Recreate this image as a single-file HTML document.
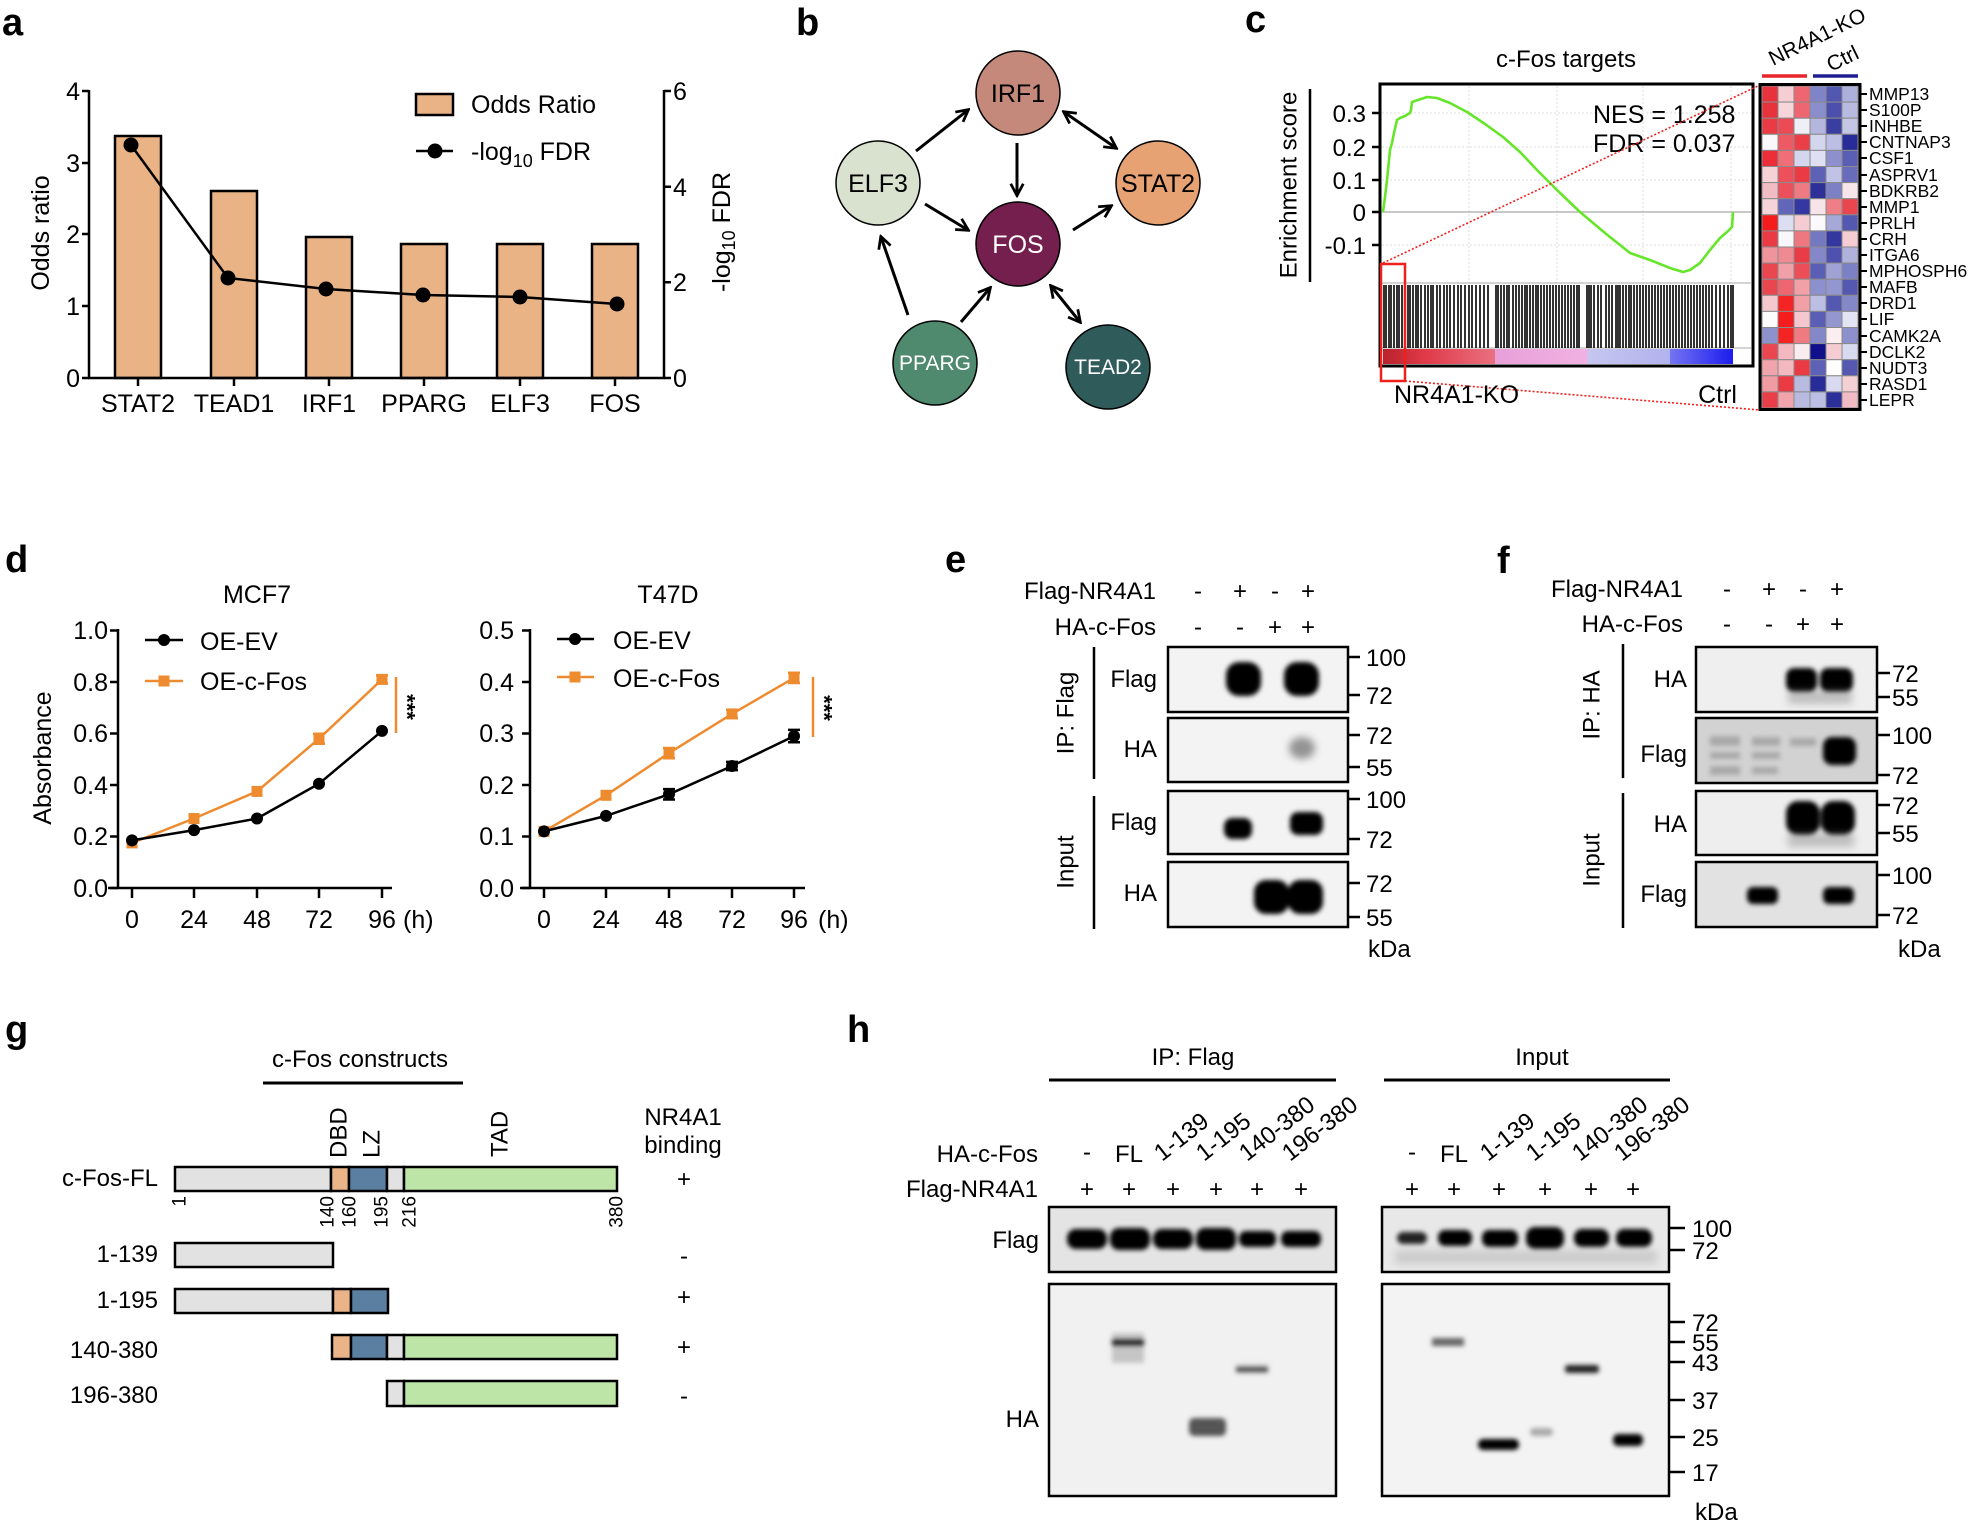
<!DOCTYPE html>
<html><head><meta charset="utf-8"><title>Figure</title>
<style>
html,body{margin:0;padding:0;background:#fff;}
svg{display:block;}
text{font-family:"Liberation Sans",Arial,sans-serif;fill:#000;}
.lbl{font-weight:bold;font-size:38px;}
.t25{font-size:25px;}
.t24{font-size:24px;}
</style></head>
<body>
<svg width="1975" height="1524" viewBox="0 0 1975 1524" xmlns="http://www.w3.org/2000/svg">
<defs>
<marker id="ah" viewBox="0 0 12 12" refX="10" refY="6" markerWidth="15" markerHeight="15" markerUnits="userSpaceOnUse" orient="auto-start-reverse">
<path d="M1,1 L10.5,6 L1,11" fill="none" stroke="#000" stroke-width="2.2"/>
</marker>
<filter id="b1" x="-50%" y="-50%" width="200%" height="200%"><feGaussianBlur stdDeviation="1.5"/></filter>
<filter id="b2" x="-50%" y="-50%" width="200%" height="200%"><feGaussianBlur stdDeviation="2.5"/></filter>
<filter id="b4" x="-50%" y="-50%" width="200%" height="200%"><feGaussianBlur stdDeviation="4"/></filter>
<linearGradient id="cbar" x1="1383" y1="0" x2="1733" y2="0" gradientUnits="userSpaceOnUse">
<stop offset="0" stop-color="#b8222c"/><stop offset="0.12" stop-color="#e03a48"/><stop offset="0.32" stop-color="#ea7080"/>
<stop offset="0.32" stop-color="#e8a0d8"/><stop offset="0.585" stop-color="#f0b2e2"/>
<stop offset="0.585" stop-color="#c6c6f0"/><stop offset="0.82" stop-color="#b2b2ee"/>
<stop offset="0.82" stop-color="#7474f2"/><stop offset="1" stop-color="#1c1cee"/>
</linearGradient>
</defs>

<!-- ================= Panel a ================= -->
<text class="lbl" x="2" y="35">a</text>
<g stroke="#000" stroke-width="2.5" fill="#e9b386">
<rect x="115" y="136" width="46" height="242"/>
<rect x="211" y="191" width="46" height="187"/>
<rect x="306" y="237" width="46" height="141"/>
<rect x="401" y="244" width="46" height="134"/>
<rect x="497" y="244" width="46" height="134"/>
<rect x="592" y="244" width="46" height="134"/>
</g>
<g stroke="#000" stroke-width="2.5" fill="none">
<line x1="89" y1="90" x2="89" y2="379"/>
<line x1="88" y1="378" x2="665" y2="378"/>
<line x1="664" y1="90" x2="664" y2="379"/>
<path d="M82 91H89M82 163H89M82 234H89M82 306H89M82 378H89"/>
<path d="M664 91H671M664 186.7H671M664 282.3H671M664 378H671"/>
<path d="M138 378V386M234 378V386M329 378V386M424 378V386M520 378V386M615 378V386"/>
</g>
<g class="t25" text-anchor="end">
<text x="80" y="100">4</text><text x="80" y="172">3</text><text x="80" y="243">2</text><text x="80" y="315">1</text><text x="80" y="387">0</text>
</g>
<g class="t25">
<text x="673" y="100">6</text><text x="673" y="196">4</text><text x="673" y="291">2</text><text x="673" y="387">0</text>
</g>
<g class="t25" text-anchor="middle">
<text x="138" y="412">STAT2</text><text x="234" y="412">TEAD1</text><text x="329" y="412">IRF1</text>
<text x="424" y="412">PPARG</text><text x="520" y="412">ELF3</text><text x="615" y="412">FOS</text>
</g>
<text class="t25" transform="translate(41,233) rotate(-90)" text-anchor="middle" dominant-baseline="central">Odds ratio</text>
<text class="t25" transform="translate(722,232) rotate(-90)" text-anchor="middle" dominant-baseline="central">-log<tspan font-size="18" dy="7">10</tspan><tspan dy="-7"> FDR</tspan></text>
<polyline points="131,145 228,278 326,289 423,295 520,297 617,304" fill="none" stroke="#000" stroke-width="2.5"/>
<g fill="#000">
<circle cx="131" cy="145" r="7.5"/><circle cx="228" cy="278" r="7.5"/><circle cx="326" cy="289" r="7.5"/>
<circle cx="423" cy="295" r="7.5"/><circle cx="520" cy="297" r="7.5"/><circle cx="617" cy="304" r="7.5"/>
</g>
<rect x="416" y="94" width="37" height="21" fill="#e9b386" stroke="#000" stroke-width="2.5"/>
<text class="t25" x="471" y="113">Odds Ratio</text>
<line x1="416" y1="151" x2="453" y2="151" stroke="#000" stroke-width="2.5"/>
<circle cx="435" cy="151" r="7.5" fill="#000"/>
<text class="t25" x="471" y="160">-log<tspan font-size="18" dy="7">10</tspan><tspan dy="-7"> FDR</tspan></text>

<!-- ================= Panel b ================= -->
<text class="lbl" x="796" y="35">b</text>
<g stroke="#000" stroke-width="3" fill="none">
<line x1="916" y1="151" x2="968" y2="110" marker-end="url(#ah)"/>
<line x1="1017" y1="143" x2="1017" y2="195" marker-end="url(#ah)"/>
<line x1="1064" y1="112" x2="1116" y2="148" marker-start="url(#ah)" marker-end="url(#ah)"/>
<line x1="925" y1="204" x2="968" y2="230" marker-end="url(#ah)"/>
<line x1="1073" y1="230" x2="1111" y2="206" marker-end="url(#ah)"/>
<line x1="908" y1="315" x2="881" y2="237" marker-end="url(#ah)"/>
<line x1="961" y1="322" x2="990" y2="288" marker-end="url(#ah)"/>
<line x1="1051" y1="286" x2="1080" y2="322" marker-start="url(#ah)" marker-end="url(#ah)"/>
</g>
<g stroke="#000" stroke-width="1.5">
<circle cx="1018" cy="93" r="42" fill="#c4897a"/>
<circle cx="878" cy="183" r="42" fill="#d9e1cf"/>
<circle cx="1158" cy="183" r="42" fill="#e6a273"/>
<circle cx="1018" cy="244" r="42" fill="#751f4e"/>
<circle cx="935" cy="363" r="42" fill="#4f8a6f"/>
<circle cx="1108" cy="367" r="42" fill="#2f5b5b"/>
</g>
<g text-anchor="middle" class="t25">
<text x="1018" y="102">IRF1</text>
<text x="878" y="192">ELF3</text>
<text x="1158" y="192">STAT2</text>
<text x="1018" y="253" style="fill:#fff">FOS</text>
<text x="935" y="370" font-size="21" style="fill:#fff">PPARG</text>
<text x="1108" y="374" font-size="21" style="fill:#fff">TEAD2</text>
</g>

<!-- ================= Panel c ================= -->
<text class="lbl" x="1245" y="32">c</text>
<text class="t24" x="1566" y="67" text-anchor="middle">c-Fos targets</text>
<rect x="1380" y="84" width="373" height="282" fill="#fff"/>
<g stroke="#dcdcdc" stroke-width="1" stroke-dasharray="2,2">
<path d="M1469 86V283M1557 86V283M1643 86V283M1731 86V283"/>
<path d="M1382 113H1751M1382 147H1751M1382 180H1751M1382 245H1751"/>
</g>
<line x1="1382" y1="212" x2="1751" y2="212" stroke="#a8a8a8" stroke-width="1.2"/>
<line x1="1382" y1="283" x2="1751" y2="283" stroke="#bbb" stroke-width="1.2"/>
<line x1="1382" y1="348" x2="1751" y2="348" stroke="#bbb" stroke-width="1.2"/>
<path stroke="#000" stroke-width="1.6" d="M1384 285V348M1386 285V348M1389 285V348M1391 285V348M1394 285V348M1397 285V348M1399 285V348M1402 285V348M1405 285V348M1408 285V348M1410 285V348M1413 285V348M1416 285V348M1418 285V348M1421 285V348M1425 285V348M1428 285V348M1431 285V348M1433 285V348M1437 285V348M1440 285V348M1444 285V348M1447 285V348M1450 285V348M1454 285V348M1458 285V348M1461 285V348M1465 285V348M1469 285V348M1472 285V348M1476 285V348M1480 285V348M1484 285V348M1488 285V348M1496 285V348M1498 285V348M1501 285V348M1504 285V348M1507 285V348M1509 285V348M1513 285V348M1516 285V348M1519 285V348M1522 285V348M1525 285V348M1527 285V348M1530 285V348M1533 285V348M1536 285V348M1538 285V348M1541 285V348M1544 285V348M1547 285V348M1550 285V348M1553 285V348M1556 285V348M1559 285V348M1562 285V348M1565 285V348M1568 285V348M1571 285V348M1574 285V348M1577 285V348M1579 285V348M1587 285V348M1589 285V348M1591 285V348M1594 285V348M1598 285V348M1601 285V348M1606 285V348M1609 285V348M1612 285V348M1616 285V348M1618 285V348M1620 285V348M1623 285V348M1626 285V348M1629 285V348M1631 285V348M1634 285V348M1637 285V348M1640 285V348M1643 285V348M1646 285V348M1649 285V348M1652 285V348M1655 285V348M1658 285V348M1661 285V348M1664 285V348M1667 285V348M1670 285V348M1673 285V348M1676 285V348M1679 285V348M1682 285V348M1685 285V348M1688 285V348M1691 285V348M1694 285V348M1697 285V348M1700 285V348M1703 285V348M1706 285V348M1709 285V348M1712 285V348M1716 285V348M1720 285V348M1724 285V348M1728 285V348M1731 285V348M1733 285V348"/>
<rect x="1383" y="349" width="350" height="15" fill="url(#cbar)"/>
<polyline fill="none" stroke="#66e62a" stroke-width="2.6" stroke-linejoin="round" points="1383,212 1385,197 1387,180 1388,170 1390,150 1392,143 1394,133 1397,120 1400,118 1405,116 1410,113 1411,110 1412,102 1418,100 1427,97 1437,98 1450,103 1467,112 1485,124 1503,137 1520,152 1537,170 1558,191 1580,212 1605,233 1630,253 1650,260 1670,268 1683,272 1690,270 1700,263 1710,250 1720,238 1727,232 1732,227 1733,212"/>
<rect x="1380" y="84" width="373" height="282" fill="none" stroke="#000" stroke-width="3"/>
<path d="M1372 113H1380M1372 147H1380M1372 180H1380M1372 212H1380M1372 245H1380" stroke="#000" stroke-width="2.5"/>
<g class="t24" text-anchor="end">
<text x="1366" y="122">0.3</text><text x="1366" y="156">0.2</text><text x="1366" y="189">0.1</text><text x="1366" y="221">0</text><text x="1366" y="254">-0.1</text>
</g>
<text class="t24" transform="translate(1289,185) rotate(-90)" text-anchor="middle" dominant-baseline="central">Enrichment score</text>
<line x1="1310" y1="89" x2="1310" y2="282" stroke="#000" stroke-width="2.5"/>
<text class="t25" x="1593" y="123">NES = 1.258</text>
<text class="t25" x="1593" y="152">FDR = 0.037</text>
<rect x="1381" y="264" width="24" height="117" fill="none" stroke="#f0201c" stroke-width="2.5"/>
<g stroke="#f0201c" stroke-width="1.6" stroke-dasharray="2,2">
<line x1="1383" y1="263" x2="1760" y2="85"/>
<line x1="1405" y1="381" x2="1760" y2="410"/>
</g>
<text class="t25" x="1394" y="403">NR4A1-KO</text>
<text class="t25" x="1737" y="403" text-anchor="end">Ctrl</text>

<!-- heatmap -->
<g stroke="#8a8a8a" stroke-width="1">
<!-- row1 MMP13 -->
<rect x="1762" y="86" width="16" height="16.1" fill="#e8323c"/><rect x="1778" y="86" width="16" height="16.1" fill="#f6cdd2"/><rect x="1794" y="86" width="16" height="16.1" fill="#ee6670"/><rect x="1810" y="86" width="16" height="16.1" fill="#7f84c8"/><rect x="1826" y="86" width="16" height="16.1" fill="#5257b0"/><rect x="1842" y="86" width="16" height="16.1" fill="#aeb0dc"/>
<!-- row2 S100P -->
<rect x="1762" y="102.1" width="16" height="16.1" fill="#e8323c"/><rect x="1778" y="102.1" width="16" height="16.1" fill="#f6d6da"/><rect x="1794" y="102.1" width="16" height="16.1" fill="#ee6670"/><rect x="1810" y="102.1" width="16" height="16.1" fill="#8a8ecc"/><rect x="1826" y="102.1" width="16" height="16.1" fill="#4c50ac"/><rect x="1842" y="102.1" width="16" height="16.1" fill="#b8bae0"/>
<!-- row3 INHBE -->
<rect x="1762" y="118.2" width="16" height="16.1" fill="#ea3a44"/><rect x="1778" y="118.2" width="16" height="16.1" fill="#ec4a54"/><rect x="1794" y="118.2" width="16" height="16.1" fill="#eef0f6"/><rect x="1810" y="118.2" width="16" height="16.1" fill="#b4b6de"/><rect x="1826" y="118.2" width="16" height="16.1" fill="#3a3ea0"/><rect x="1842" y="118.2" width="16" height="16.1" fill="#c4c6e6"/>
<!-- row4 CNTNAP3 -->
<rect x="1762" y="134.3" width="16" height="16.1" fill="#faf8fa"/><rect x="1778" y="134.3" width="16" height="16.1" fill="#ee5a64"/><rect x="1794" y="134.3" width="16" height="16.1" fill="#ea3e48"/><rect x="1810" y="134.3" width="16" height="16.1" fill="#d4d6ee"/><rect x="1826" y="134.3" width="16" height="16.1" fill="#bcbee4"/><rect x="1842" y="134.3" width="16" height="16.1" fill="#282c98"/>
<!-- row5 CSF1 -->
<rect x="1762" y="150.4" width="16" height="16.1" fill="#ec2e38"/><rect x="1778" y="150.4" width="16" height="16.1" fill="#ef6e78"/><rect x="1794" y="150.4" width="16" height="16.1" fill="#d4d6ee"/><rect x="1810" y="150.4" width="16" height="16.1" fill="#dedff2"/><rect x="1826" y="150.4" width="16" height="16.1" fill="#8d90cc"/><rect x="1842" y="150.4" width="16" height="16.1" fill="#5a5eb4"/>
<!-- row6 ASPRV1 -->
<rect x="1762" y="166.5" width="16" height="16.1" fill="#f4d2d6"/><rect x="1778" y="166.5" width="16" height="16.1" fill="#ec505a"/><rect x="1794" y="166.5" width="16" height="16.1" fill="#ea3a44"/><rect x="1810" y="166.5" width="16" height="16.1" fill="#5e62b6"/><rect x="1826" y="166.5" width="16" height="16.1" fill="#c0c2e6"/><rect x="1842" y="166.5" width="16" height="16.1" fill="#686cba"/>
<!-- row7 BDKRB2 -->
<rect x="1762" y="182.6" width="16" height="16.1" fill="#f2bcc4"/><rect x="1778" y="182.6" width="16" height="16.1" fill="#ec505a"/><rect x="1794" y="182.6" width="16" height="16.1" fill="#ee7a84"/><rect x="1810" y="182.6" width="16" height="16.1" fill="#2c3098"/><rect x="1826" y="182.6" width="16" height="16.1" fill="#7c80c4"/><rect x="1842" y="182.6" width="16" height="16.1" fill="#f6e6ea"/>
<!-- row8 MMP1 -->
<rect x="1762" y="198.7" width="16" height="16.1" fill="#f4d4d8"/><rect x="1778" y="198.7" width="16" height="16.1" fill="#6266b8"/><rect x="1794" y="198.7" width="16" height="16.1" fill="#3438a0"/><rect x="1810" y="198.7" width="16" height="16.1" fill="#f6e4e8"/><rect x="1826" y="198.7" width="16" height="16.1" fill="#ef7e86"/><rect x="1842" y="198.7" width="16" height="16.1" fill="#ea4650"/>
<!-- row9 PRLH -->
<rect x="1762" y="214.8" width="16" height="16.1" fill="#f41c1c"/><rect x="1778" y="214.8" width="16" height="16.1" fill="#dcdef2"/><rect x="1794" y="214.8" width="16" height="16.1" fill="#f4ccd2"/><rect x="1810" y="214.8" width="16" height="16.1" fill="#fafafc"/><rect x="1826" y="214.8" width="16" height="16.1" fill="#a6a8d8"/><rect x="1842" y="214.8" width="16" height="16.1" fill="#5458b0"/>
<!-- row10 CRH -->
<rect x="1762" y="230.9" width="16" height="16.1" fill="#ea3a44"/><rect x="1778" y="230.9" width="16" height="16.1" fill="#f8f8fc"/><rect x="1794" y="230.9" width="16" height="16.1" fill="#ef7880"/><rect x="1810" y="230.9" width="16" height="16.1" fill="#7478c0"/><rect x="1826" y="230.9" width="16" height="16.1" fill="#34389e"/><rect x="1842" y="230.9" width="16" height="16.1" fill="#f4ccd2"/>
<!-- row11 ITGA6 -->
<rect x="1762" y="247" width="16" height="16.1" fill="#f0949c"/><rect x="1778" y="247" width="16" height="16.1" fill="#f08a92"/><rect x="1794" y="247" width="16" height="16.1" fill="#ea3c46"/><rect x="1810" y="247" width="16" height="16.1" fill="#8488c8"/><rect x="1826" y="247" width="16" height="16.1" fill="#4e52ae"/><rect x="1842" y="247" width="16" height="16.1" fill="#b0b2dc"/>
<!-- row12 MPHOSPH6 -->
<rect x="1762" y="263.1" width="16" height="16.1" fill="#ea4650"/><rect x="1778" y="263.1" width="16" height="16.1" fill="#f2a0a8"/><rect x="1794" y="263.1" width="16" height="16.1" fill="#ec4e58"/><rect x="1810" y="263.1" width="16" height="16.1" fill="#5a5eb4"/><rect x="1826" y="263.1" width="16" height="16.1" fill="#a0a2d6"/><rect x="1842" y="263.1" width="16" height="16.1" fill="#7c80c4"/>
<!-- row13 MAFB -->
<rect x="1762" y="279.2" width="16" height="16.1" fill="#ea4650"/><rect x="1778" y="279.2" width="16" height="16.1" fill="#ee6670"/><rect x="1794" y="279.2" width="16" height="16.1" fill="#f2a0a8"/><rect x="1810" y="279.2" width="16" height="16.1" fill="#8c90cc"/><rect x="1826" y="279.2" width="16" height="16.1" fill="#9496d0"/><rect x="1842" y="279.2" width="16" height="16.1" fill="#5458b0"/>
<!-- row14 DRD1 -->
<rect x="1762" y="295.3" width="16" height="16.1" fill="#f4c8ce"/><rect x="1778" y="295.3" width="16" height="16.1" fill="#f42424"/><rect x="1794" y="295.3" width="16" height="16.1" fill="#f2a0a8"/><rect x="1810" y="295.3" width="16" height="16.1" fill="#bcbee4"/><rect x="1826" y="295.3" width="16" height="16.1" fill="#5458b0"/><rect x="1842" y="295.3" width="16" height="16.1" fill="#8488c8"/>
<!-- row15 LIF -->
<rect x="1762" y="311.4" width="16" height="16.1" fill="#fcfcfc"/><rect x="1778" y="311.4" width="16" height="16.1" fill="#f41c1c"/><rect x="1794" y="311.4" width="16" height="16.1" fill="#f4c8ce"/><rect x="1810" y="311.4" width="16" height="16.1" fill="#5a5eb4"/><rect x="1826" y="311.4" width="16" height="16.1" fill="#9496d0"/><rect x="1842" y="311.4" width="16" height="16.1" fill="#e2e4f4"/>
<!-- row16 CAMK2A -->
<rect x="1762" y="327.5" width="16" height="16.1" fill="#8e92cc"/><rect x="1778" y="327.5" width="16" height="16.1" fill="#f42424"/><rect x="1794" y="327.5" width="16" height="16.1" fill="#ef7a82"/><rect x="1810" y="327.5" width="16" height="16.1" fill="#8488c8"/><rect x="1826" y="327.5" width="16" height="16.1" fill="#faeef0"/><rect x="1842" y="327.5" width="16" height="16.1" fill="#8c90cc"/>
<!-- row17 DCLK2 -->
<rect x="1762" y="343.6" width="16" height="16.1" fill="#ea4650"/><rect x="1778" y="343.6" width="16" height="16.1" fill="#f4b8c0"/><rect x="1794" y="343.6" width="16" height="16.1" fill="#f8ecee"/><rect x="1810" y="343.6" width="16" height="16.1" fill="#10108a"/><rect x="1826" y="343.6" width="16" height="16.1" fill="#f4ccd2"/><rect x="1842" y="343.6" width="16" height="16.1" fill="#d8daf0"/>
<!-- row18 NUDT3 -->
<rect x="1762" y="359.7" width="16" height="16.1" fill="#f2a4ac"/><rect x="1778" y="359.7" width="16" height="16.1" fill="#f4b8c0"/><rect x="1794" y="359.7" width="16" height="16.1" fill="#ea3a44"/><rect x="1810" y="359.7" width="16" height="16.1" fill="#5e62b6"/><rect x="1826" y="359.7" width="16" height="16.1" fill="#fefefe"/><rect x="1842" y="359.7" width="16" height="16.1" fill="#5458b0"/>
<!-- row19 RASD1 -->
<rect x="1762" y="375.8" width="16" height="16.1" fill="#f09aa2"/><rect x="1778" y="375.8" width="16" height="16.1" fill="#ea3a44"/><rect x="1794" y="375.8" width="16" height="16.1" fill="#b8bae0"/><rect x="1810" y="375.8" width="16" height="16.1" fill="#282c98"/><rect x="1826" y="375.8" width="16" height="16.1" fill="#d8daf0"/><rect x="1842" y="375.8" width="16" height="16.1" fill="#f4d0d4"/>
<!-- row20 LEPR -->
<rect x="1762" y="391.9" width="16" height="16.1" fill="#ea3e48"/><rect x="1778" y="391.9" width="16" height="16.1" fill="#f2a4ac"/><rect x="1794" y="391.9" width="16" height="16.1" fill="#b8bae0"/><rect x="1810" y="391.9" width="16" height="16.1" fill="#bcbee4"/><rect x="1826" y="391.9" width="16" height="16.1" fill="#2c3098"/><rect x="1842" y="391.9" width="16" height="16.1" fill="#f2bcc4"/>
</g>
<rect x="1760" y="84.5" width="100" height="325" fill="none" stroke="#000" stroke-width="3"/>
<path stroke="#000" stroke-width="2" d="M1860 94H1867M1860 110H1867M1860 126H1867M1860 142H1867M1860 158H1867M1860 175H1867M1860 191H1867M1860 207H1867M1860 223H1867M1860 239H1867M1860 255H1867M1860 271H1867M1860 287H1867M1860 303H1867M1860 319H1867M1860 336H1867M1860 352H1867M1860 368H1867M1860 384H1867M1860 400H1867"/>
<g font-size="17.5">
<text x="1869" y="100">MMP13</text><text x="1869" y="116">S100P</text><text x="1869" y="132">INHBE</text><text x="1869" y="148">CNTNAP3</text><text x="1869" y="164">CSF1</text>
<text x="1869" y="181">ASPRV1</text><text x="1869" y="197">BDKRB2</text><text x="1869" y="213">MMP1</text><text x="1869" y="229">PRLH</text><text x="1869" y="245">CRH</text>
<text x="1869" y="261">ITGA6</text><text x="1869" y="277">MPHOSPH6</text><text x="1869" y="293">MAFB</text><text x="1869" y="309">DRD1</text><text x="1869" y="325">LIF</text>
<text x="1869" y="342">CAMK2A</text><text x="1869" y="358">DCLK2</text><text x="1869" y="374">NUDT3</text><text x="1869" y="390">RASD1</text><text x="1869" y="406">LEPR</text>
</g>
<line x1="1762" y1="76" x2="1807" y2="76" stroke="#e8262a" stroke-width="3.5"/>
<line x1="1813" y1="76" x2="1858" y2="76" stroke="#1e1e90" stroke-width="3.5"/>
<text font-size="21" transform="translate(1773,66) rotate(-26)">NR4A1-KO</text>
<text font-size="21" transform="translate(1831,72) rotate(-26)">Ctrl</text>

<!-- ================= Panel d ================= -->
<text class="lbl" x="5" y="572">d</text>
<!-- MCF7 -->
<text class="t25" x="257" y="603" text-anchor="middle">MCF7</text>
<g stroke="#000" stroke-width="2.5" fill="none">
<line x1="118" y1="629" x2="118" y2="889"/>
<line x1="108" y1="888" x2="392" y2="888"/>
<path d="M110 888H118M110 836.5H118M110 785H118M110 733.5H118M110 682H118M110 630.5H118"/>
<path d="M132 888V898M194 888V898M257 888V898M319 888V898M382 888V898"/>
</g>
<g class="t25" text-anchor="end">
<text x="108" y="897">0.0</text><text x="108" y="845">0.2</text><text x="108" y="794">0.4</text><text x="108" y="742">0.6</text><text x="108" y="691">0.8</text><text x="108" y="639">1.0</text>
</g>
<g class="t25" text-anchor="middle">
<text x="132" y="928">0</text><text x="194" y="928">24</text><text x="257" y="928">48</text><text x="319" y="928">72</text><text x="382" y="928">96</text>
</g>
<text class="t25" x="403" y="928">(h)</text>
<text class="t25" transform="translate(43,758) rotate(-90)" text-anchor="middle" dominant-baseline="central">Absorbance</text>
<g stroke="#ef8b2f" stroke-width="2.5" fill="#ef8b2f">
<polyline fill="none" points="132,842.9 194,818.5 257,791.4 319,738.7 382,679.4"/>
<path d="M319 733.7V743.7M313 733.7H325M313 743.7H325M382 675.4V683.4M376 675.4H388M376 683.4H388"/>
<rect x="126.5" y="837.4" width="11" height="11" stroke="none"/>
<rect x="188.5" y="813" width="11" height="11" stroke="none"/>
<rect x="251.5" y="785.9" width="11" height="11" stroke="none"/>
<rect x="313.5" y="733.2" width="11" height="11" stroke="none"/>
<rect x="376.5" y="673.9" width="11" height="11" stroke="none"/>
</g>
<g stroke="#000" stroke-width="2.5" fill="#000">
<polyline fill="none" points="132,840.4 194,830.1 257,818.5 319,783.7 382,730.9"/>
<circle cx="132" cy="840.4" r="6" stroke="none"/><circle cx="194" cy="830.1" r="6" stroke="none"/><circle cx="257" cy="818.5" r="6" stroke="none"/><circle cx="319" cy="783.7" r="6" stroke="none"/><circle cx="382" cy="730.9" r="6" stroke="none"/>
</g>
<line x1="145" y1="640" x2="183" y2="640" stroke="#000" stroke-width="2.5"/><circle cx="164" cy="640" r="6"/>
<text class="t25" x="200" y="650">OE-EV</text>
<line x1="145" y1="681" x2="183" y2="681" stroke="#ef8b2f" stroke-width="2.5"/><rect x="158.5" y="675.5" width="11" height="11" fill="#ef8b2f"/>
<text class="t25" x="200" y="690">OE-c-Fos</text>
<line x1="396" y1="677" x2="396" y2="733" stroke="#ef8b2f" stroke-width="2.5"/>
<text font-size="22" font-weight="bold" transform="translate(407,707) rotate(90)" text-anchor="middle" dominant-baseline="central">***</text>

<!-- T47D -->
<text class="t25" x="668" y="603" text-anchor="middle">T47D</text>
<g stroke="#000" stroke-width="2.5" fill="none">
<line x1="530" y1="629" x2="530" y2="889"/>
<line x1="520" y1="888" x2="805" y2="888"/>
<path d="M522 888H530M522 836.5H530M522 785H530M522 733.5H530M522 682H530M522 630.5H530"/>
<path d="M544 888V898M606 888V898M669 888V898M732 888V898M794 888V898"/>
</g>
<g class="t25" text-anchor="end">
<text x="514" y="897">0.0</text><text x="514" y="845">0.1</text><text x="514" y="794">0.2</text><text x="514" y="742">0.3</text><text x="514" y="691">0.4</text><text x="514" y="639">0.5</text>
</g>
<g class="t25" text-anchor="middle">
<text x="544" y="928">0</text><text x="606" y="928">24</text><text x="669" y="928">48</text><text x="732" y="928">72</text><text x="794" y="928">96</text>
</g>
<text class="t25" x="818" y="928">(h)</text>
<g stroke="#ef8b2f" stroke-width="2.5" fill="#ef8b2f">
<polyline fill="none" points="544,831.4 606,795.3 669,753.1 732,713.9 794,677.9"/>
<path d="M669 748V758.2M663 748H675M663 758.2H675M732 709.8V718M726 709.8H738M726 718H738M794 672.8V683M788 672.8H800M788 683H800"/>
<rect x="538.5" y="825.9" width="11" height="11" stroke="none"/>
<rect x="600.5" y="789.8" width="11" height="11" stroke="none"/>
<rect x="663.5" y="747.6" width="11" height="11" stroke="none"/>
<rect x="726.5" y="708.4" width="11" height="11" stroke="none"/>
<rect x="788.5" y="672.4" width="11" height="11" stroke="none"/>
</g>
<g stroke="#000" stroke-width="2.5" fill="#000">
<polyline fill="none" points="544,831.4 606,815.9 669,794.3 732,766 794,736.1"/>
<path d="M669 789.1V799.5M663 789.1H675M663 799.5H675M732 761.9V770.1M726 761.9H738M726 770.1H738M794 729.9V742.3M788 729.9H800M788 742.3H800"/>
<circle cx="544" cy="831.4" r="6" stroke="none"/><circle cx="606" cy="815.9" r="6" stroke="none"/><circle cx="669" cy="794.3" r="6" stroke="none"/><circle cx="732" cy="766" r="6" stroke="none"/><circle cx="794" cy="736.1" r="6" stroke="none"/>
</g>
<line x1="557" y1="639" x2="594" y2="639" stroke="#000" stroke-width="2.5"/><circle cx="575" cy="639" r="6"/>
<text class="t25" x="613" y="649">OE-EV</text>
<line x1="557" y1="677" x2="594" y2="677" stroke="#ef8b2f" stroke-width="2.5"/><rect x="569.5" y="671.5" width="11" height="11" fill="#ef8b2f"/>
<text class="t25" x="613" y="687">OE-c-Fos</text>
<line x1="813" y1="677" x2="813" y2="737" stroke="#ef8b2f" stroke-width="2.5"/>
<text font-size="22" font-weight="bold" transform="translate(824,708) rotate(90)" text-anchor="middle" dominant-baseline="central">***</text>

<!-- ================= Panel e ================= -->
<text class="lbl" x="945" y="572">e</text>
<text class="t24" x="1156" y="599" text-anchor="end">Flag-NR4A1</text>
<text class="t24" x="1156" y="635" text-anchor="end">HA-c-Fos</text>
<g class="t24" text-anchor="middle">
<text x="1198" y="599">-</text><text x="1240" y="599">+</text><text x="1275" y="599">-</text><text x="1308" y="599">+</text>
<text x="1198" y="635">-</text><text x="1240" y="635">-</text><text x="1275" y="635">+</text><text x="1308" y="635">+</text>
</g>
<g fill="#f3f3f3">
<rect x="1168" y="647" width="180" height="65"/><rect x="1168" y="718" width="180" height="64"/>
<rect x="1168" y="791" width="180" height="63"/><rect x="1168" y="862" width="180" height="65"/>
</g>
<g fill="#000" filter="url(#b2)">
<rect x="1226" y="662" width="35" height="34" rx="13"/><rect x="1284" y="662" width="35" height="34" rx="13"/>
<rect x="1224" y="818" width="28" height="21" rx="8"/><rect x="1290" y="812" width="33" height="23" rx="8"/>
<rect x="1254" y="880" width="35" height="34" rx="12"/><rect x="1288" y="880" width="35" height="34" rx="12"/>
</g>
<ellipse cx="1302" cy="748" rx="13" ry="11" fill="#555" opacity="0.6" filter="url(#b4)"/>
<g fill="none" stroke="#000" stroke-width="2.5">
<rect x="1168" y="647" width="180" height="65"/><rect x="1168" y="718" width="180" height="64"/>
<rect x="1168" y="791" width="180" height="63"/><rect x="1168" y="862" width="180" height="65"/>
<path d="M1349 657H1360M1349 695H1360M1349 735H1360M1349 767H1360M1349 799H1360M1349 839H1360M1349 883H1360M1349 917H1360"/>
<line x1="1094" y1="647" x2="1094" y2="779"/><line x1="1094" y1="796" x2="1094" y2="929"/>
</g>
<g class="t24">
<text x="1366" y="666">100</text><text x="1366" y="704">72</text><text x="1366" y="744">72</text><text x="1366" y="776">55</text>
<text x="1366" y="808">100</text><text x="1366" y="848">72</text><text x="1366" y="892">72</text><text x="1366" y="926">55</text>
<text x="1368" y="957">kDa</text>
</g>
<g class="t24" text-anchor="end">
<text x="1157" y="687">Flag</text><text x="1157" y="757">HA</text><text x="1157" y="830">Flag</text><text x="1157" y="901">HA</text>
</g>
<text class="t24" transform="translate(1066,713) rotate(-90)" text-anchor="middle" dominant-baseline="central">IP: Flag</text>
<text class="t24" transform="translate(1066,862) rotate(-90)" text-anchor="middle" dominant-baseline="central">Input</text>

<!-- ================= Panel f ================= -->
<text class="lbl" x="1497" y="573">f</text>
<text class="t24" x="1683" y="597" text-anchor="end">Flag-NR4A1</text>
<text class="t24" x="1683" y="632" text-anchor="end">HA-c-Fos</text>
<g class="t24" text-anchor="middle">
<text x="1727" y="597">-</text><text x="1769" y="597">+</text><text x="1803" y="597">-</text><text x="1837" y="597">+</text>
<text x="1727" y="632">-</text><text x="1769" y="632">-</text><text x="1803" y="632">+</text><text x="1837" y="632">+</text>
</g>
<rect x="1696" y="647" width="181" height="65" fill="#efefef"/>
<rect x="1696" y="718" width="181" height="65" fill="#d2d2d2"/>
<rect x="1696" y="791" width="181" height="64" fill="#eeeeee"/>
<rect x="1696" y="862" width="181" height="65" fill="#e2e2e2"/>
<g fill="#888" opacity="0.55" filter="url(#b2)">
<rect x="1710" y="736" width="30" height="10"/><rect x="1752" y="737" width="28" height="9"/><rect x="1790" y="738" width="26" height="8"/>
<rect x="1710" y="752" width="30" height="7"/><rect x="1752" y="752" width="28" height="7"/>
<rect x="1710" y="766" width="30" height="9"/><rect x="1752" y="767" width="26" height="7"/>
</g>
<g fill="#000" filter="url(#b2)">
<rect x="1786" y="668" width="31" height="24" rx="8"/><rect x="1820" y="668" width="33" height="24" rx="8"/>
<rect x="1823" y="737" width="33" height="28" rx="9"/>
<rect x="1786" y="801" width="34" height="34" rx="12"/><rect x="1821" y="801" width="34" height="34" rx="12"/>
<rect x="1747" y="887" width="31" height="17" rx="6"/><rect x="1823" y="887" width="31" height="17" rx="6"/>
</g>
<g fill="#777" opacity="0.4" filter="url(#b4)">
<rect x="1788" y="690" width="64" height="14"/><rect x="1788" y="833" width="66" height="14"/>
</g>
<g fill="none" stroke="#000" stroke-width="2.5">
<rect x="1696" y="647" width="181" height="65"/><rect x="1696" y="718" width="181" height="65"/>
<rect x="1696" y="791" width="181" height="64"/><rect x="1696" y="862" width="181" height="65"/>
<path d="M1878 673H1890M1878 697H1890M1878 735H1890M1878 775H1890M1878 805H1890M1878 833H1890M1878 875H1890M1878 915H1890"/>
<line x1="1623" y1="644" x2="1623" y2="778"/><line x1="1623" y1="793" x2="1623" y2="928"/>
</g>
<g class="t24">
<text x="1892" y="682">72</text><text x="1892" y="706">55</text><text x="1892" y="744">100</text><text x="1892" y="784">72</text>
<text x="1892" y="814">72</text><text x="1892" y="842">55</text><text x="1892" y="884">100</text><text x="1892" y="924">72</text>
<text x="1898" y="957">kDa</text>
</g>
<g class="t24" text-anchor="end">
<text x="1687" y="687">HA</text><text x="1687" y="762">Flag</text><text x="1687" y="832">HA</text><text x="1687" y="902">Flag</text>
</g>
<text class="t24" transform="translate(1592,705) rotate(-90)" text-anchor="middle" dominant-baseline="central">IP: HA</text>
<text class="t24" transform="translate(1592,860) rotate(-90)" text-anchor="middle" dominant-baseline="central">Input</text>

<!-- ================= Panel g ================= -->
<text class="lbl" x="5" y="1042">g</text>
<text class="t24" x="272" y="1067">c-Fos constructs</text>
<line x1="263" y1="1083" x2="463" y2="1083" stroke="#000" stroke-width="3"/>
<text class="t24" transform="translate(339,1158) rotate(-90)" dominant-baseline="central">DBD</text>
<text class="t24" transform="translate(372,1158) rotate(-90)" dominant-baseline="central">LZ</text>
<text class="t24" transform="translate(500,1157) rotate(-90)" dominant-baseline="central">TAD</text>
<g font-size="19" text-anchor="end" dominant-baseline="central">
<text transform="translate(180,1196) rotate(-90)">1</text>
<text transform="translate(328,1196) rotate(-90)">140</text>
<text transform="translate(350,1196) rotate(-90)">160</text>
<text transform="translate(382,1196) rotate(-90)">195</text>
<text transform="translate(410,1196) rotate(-90)">216</text>
<text transform="translate(617,1196) rotate(-90)">380</text>
</g>
<g stroke="#000" stroke-width="2.5">
<!-- FL -->
<rect x="175" y="1167" width="156" height="24" fill="#e2e2e2"/>
<rect x="331" y="1167" width="18" height="24" fill="#eab488"/>
<rect x="349" y="1167" width="38" height="24" fill="#5b7fa0"/>
<rect x="387" y="1167" width="17" height="24" fill="#e2e2e2"/>
<rect x="404" y="1167" width="213" height="24" fill="#bde5a8"/>
<!-- 1-139 -->
<rect x="175" y="1243" width="158" height="24" fill="#e2e2e2"/>
<!-- 1-195 -->
<rect x="175" y="1289" width="158" height="24" fill="#e2e2e2"/>
<rect x="333" y="1289" width="18" height="24" fill="#eab488"/>
<rect x="351" y="1289" width="37" height="24" fill="#5b7fa0"/>
<!-- 140-380 -->
<rect x="332" y="1335" width="19" height="24" fill="#eab488"/>
<rect x="351" y="1335" width="36" height="24" fill="#5b7fa0"/>
<rect x="387" y="1335" width="17" height="24" fill="#e2e2e2"/>
<rect x="404" y="1335" width="213" height="24" fill="#bde5a8"/>
<!-- 196-380 -->
<rect x="387" y="1381" width="17" height="25" fill="#e2e2e2"/>
<rect x="404" y="1381" width="213" height="25" fill="#bde5a8"/>
</g>
<g class="t24" text-anchor="end">
<text x="158" y="1186">c-Fos-FL</text><text x="158" y="1262">1-139</text><text x="158" y="1308">1-195</text>
<text x="158" y="1358">140-380</text><text x="158" y="1403">196-380</text>
</g>
<text class="t24" x="683" y="1125" text-anchor="middle">NR4A1</text>
<text class="t24" x="683" y="1153" text-anchor="middle">binding</text>
<g class="t24" text-anchor="middle">
<text x="684" y="1187">+</text><text x="684" y="1264">-</text><text x="684" y="1305">+</text><text x="684" y="1355">+</text><text x="684" y="1404">-</text>
</g>

<!-- ================= Panel h ================= -->
<text class="lbl" x="847" y="1042">h</text>
<text class="t24" x="1193" y="1065" text-anchor="middle">IP: Flag</text>
<line x1="1049" y1="1080" x2="1336" y2="1080" stroke="#000" stroke-width="3"/>
<text class="t24" x="1542" y="1065" text-anchor="middle">Input</text>
<line x1="1384" y1="1080" x2="1670" y2="1080" stroke="#000" stroke-width="3"/>
<text class="t24" x="1038" y="1162" text-anchor="end">HA-c-Fos</text>
<text class="t24" x="1038" y="1197" text-anchor="end">Flag-NR4A1</text>
<g class="t24">
<text x="1087" y="1160" text-anchor="middle">-</text><text x="1129" y="1162" text-anchor="middle">FL</text>
<text transform="translate(1162,1162) rotate(-38)">1-139</text>
<text transform="translate(1204,1162) rotate(-38)">1-195</text>
<text transform="translate(1247,1162) rotate(-38)">140-380</text>
<text transform="translate(1290,1162) rotate(-38)">196-380</text>
<text x="1412" y="1160" text-anchor="middle">-</text><text x="1454" y="1162" text-anchor="middle">FL</text>
<text transform="translate(1488,1162) rotate(-38)">1-139</text>
<text transform="translate(1534,1162) rotate(-38)">1-195</text>
<text transform="translate(1580,1162) rotate(-38)">140-380</text>
<text transform="translate(1622,1162) rotate(-38)">196-380</text>
</g>
<g class="t24" text-anchor="middle">
<text x="1087" y="1197">+</text><text x="1129" y="1197">+</text><text x="1173" y="1197">+</text><text x="1216" y="1197">+</text><text x="1257" y="1197">+</text><text x="1301" y="1197">+</text>
<text x="1412" y="1197">+</text><text x="1454" y="1197">+</text><text x="1499" y="1197">+</text><text x="1545" y="1197">+</text><text x="1591" y="1197">+</text><text x="1633" y="1197">+</text>
</g>
<!-- Flag blots -->
<rect x="1049" y="1207" width="287" height="65" fill="#e4e4e4"/>
<rect x="1382" y="1207" width="287" height="65" fill="#e8e8e8"/>
<g fill="#000" filter="url(#b2)">
<rect x="1067" y="1229" width="40" height="20" rx="9"/><rect x="1110" y="1228" width="40" height="22" rx="9"/>
<rect x="1153" y="1229" width="40" height="20" rx="9"/><rect x="1196" y="1228" width="40" height="22" rx="9"/>
<rect x="1239" y="1231" width="37" height="16" rx="7"/><rect x="1281" y="1231" width="40" height="16" rx="7"/>
<rect x="1397" y="1232" width="30" height="12" rx="6" opacity="0.85"/><rect x="1438" y="1230" width="34" height="16" rx="7"/>
<rect x="1482" y="1230" width="36" height="17" rx="7"/><rect x="1526" y="1227" width="38" height="22" rx="9"/>
<rect x="1574" y="1229" width="35" height="18" rx="8"/><rect x="1616" y="1229" width="36" height="18" rx="8"/>
</g>
<rect x="1395" y="1250" width="262" height="14" fill="#999" opacity="0.35" filter="url(#b4)"/>
<!-- HA blots -->
<rect x="1049" y="1284" width="287" height="212" fill="#f1f1f1"/>
<rect x="1382" y="1284" width="287" height="212" fill="#f3f3f3"/>
<line x1="1060" y1="1343" x2="1325" y2="1343" stroke="#ccc" stroke-width="2" filter="url(#b1)"/>
<g filter="url(#b2)">
<rect x="1112" y="1333" width="32" height="30" fill="#999" opacity="0.5"/>
<rect x="1112" y="1339" width="32" height="7" fill="#222"/>
<rect x="1189" y="1418" width="37" height="18" rx="5" fill="#555"/>
<rect x="1236" y="1364" width="32" height="10" fill="#bbb" opacity="0.7"/>
<rect x="1236" y="1367" width="32" height="5" fill="#333"/>
<rect x="1432" y="1338" width="32" height="8" fill="#666"/>
<rect x="1478" y="1439" width="41" height="11" rx="5" fill="#000"/>
<rect x="1530" y="1428" width="23" height="8" rx="4" fill="#aaa"/>
<rect x="1565" y="1365" width="34" height="8" rx="3" fill="#222"/>
<rect x="1613" y="1434" width="30" height="12" rx="5" fill="#000"/>
</g>
<g fill="none" stroke="#000" stroke-width="2.5">
<rect x="1049" y="1207" width="287" height="65"/><rect x="1382" y="1207" width="287" height="65"/>
<rect x="1049" y="1284" width="287" height="212"/><rect x="1382" y="1284" width="287" height="212"/>
<path d="M1670 1228H1685M1670 1250H1685M1670 1322H1685M1670 1342H1685M1670 1362H1685M1670 1400H1685M1670 1437H1685M1670 1472H1685"/>
</g>
<g class="t24">
<text x="1692" y="1237">100</text><text x="1692" y="1259">72</text>
<text x="1692" y="1331">72</text><text x="1692" y="1351">55</text><text x="1692" y="1371">43</text>
<text x="1692" y="1409">37</text><text x="1692" y="1446">25</text><text x="1692" y="1481">17</text>
<text x="1695" y="1520">kDa</text>
</g>
<text class="t24" x="1039" y="1248" text-anchor="end">Flag</text>
<text class="t24" x="1039" y="1427" text-anchor="end">HA</text>
</svg>
</body></html>
